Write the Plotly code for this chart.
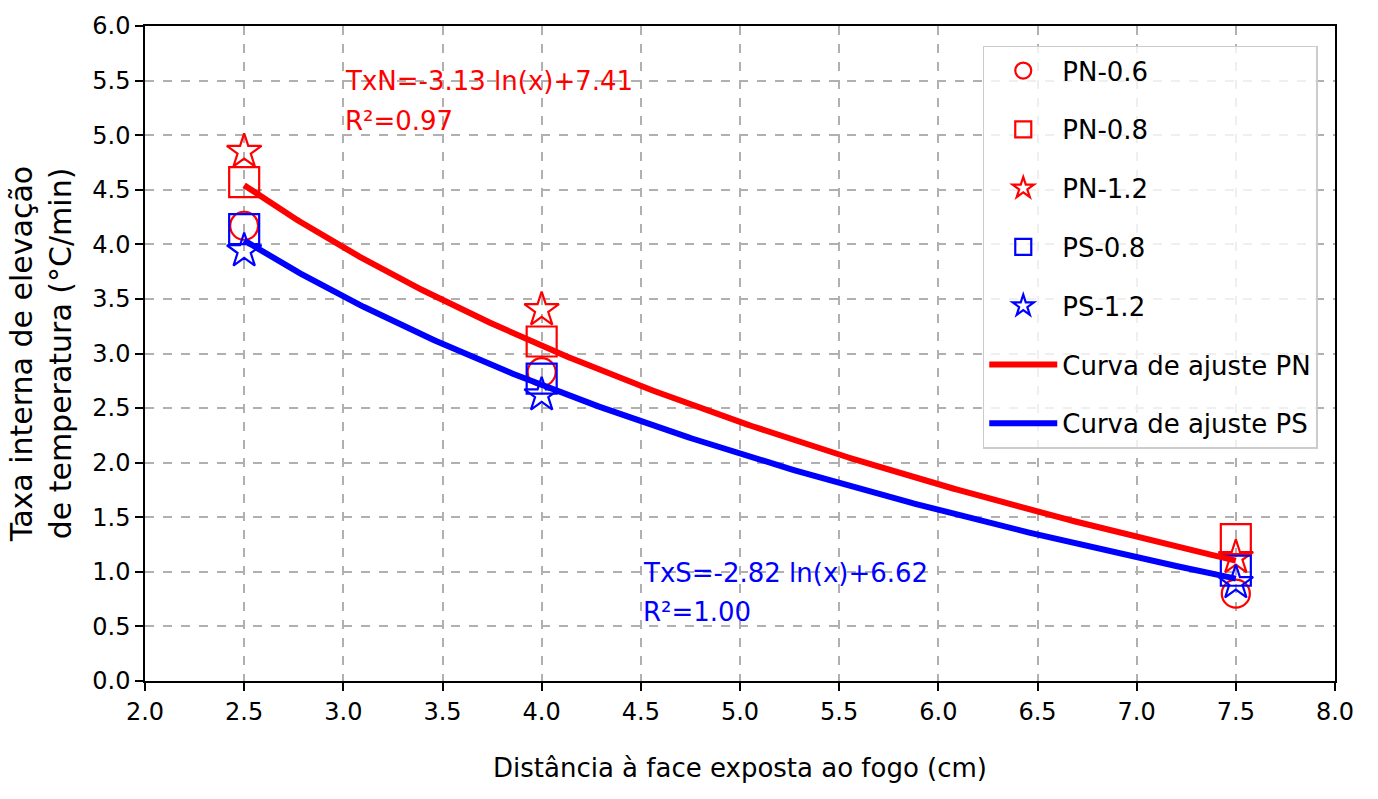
import numpy as np
import plotly.graph_objects as go

# Data
x_pos = [2.5, 4.0, 7.5]
pn_06 = [4.17, 2.83, 0.80]
pn_08 = [4.57, 3.11, 1.30]
pn_12 = [4.85, 3.40, 1.13]
ps_08 = [4.14, 2.77, 1.01]
ps_12 = [3.94, 2.62, 0.90]

# Fit coefficients displayed on the chart: y = a*ln(x) + b
pn_fit = (-3.13, 7.41)
ps_fit = (-2.82, 6.62)

x_ticks = [2.0, 2.5, 3.0, 3.5, 4.0, 4.5, 5.0, 5.5, 6.0, 6.5, 7.0, 7.5, 8.0]
y_ticks = [0.0, 0.5, 1.0, 1.5, 2.0, 2.5, 3.0, 3.5, 4.0, 4.5, 5.0, 5.5, 6.0]

FONT = "DejaVu Sans"
RED = "#ff0000"
BLUE = "#0000ff"

fig = go.Figure()

markers = [
    ("PN-0.6", pn_06, "circle-open", RED, 28),
    ("PN-0.8", pn_08, "square-open", RED, 30),
    ("PN-1.2", pn_12, "star-open", RED, 26),
    ("PS-0.8", ps_08, "square-open", BLUE, 30),
    ("PS-1.2", ps_12, "star-open", BLUE, 26),
]
for i, (name, vals, sym, col, sz) in enumerate(markers):
    fig.add_trace(go.Scatter(
        x=x_pos, y=vals, mode="markers", name=name,
        legendgroup=f"g{i}",
        marker=dict(symbol=sym, size=sz, color=col, line=dict(width=2.2, color=col)),
    ))

xf = np.linspace(x_pos[0], x_pos[-1], 300)
for j, (name, (a, b), col) in enumerate([("Curva de ajuste PN", pn_fit, RED),
                                          ("Curva de ajuste PS", ps_fit, BLUE)]):
    fig.add_trace(go.Scatter(
        x=xf, y=a * np.log(xf) + b, mode="lines", name=name,
        legendgroup=f"c{j}",
        line=dict(color=col, width=6),
    ))

anns = [
    (3.0, 5.50, "TxN=-3.13 ln(x)+7.41", RED),
    (3.0, 5.13, "R²=0.97", RED),
    (4.5, 0.99, "TxS=-2.82 ln(x)+6.62", BLUE),
    (4.5, 0.63, "R²=1.00", BLUE),
]
for ax_, ay_, txt, col in anns:
    fig.add_annotation(x=ax_, y=ay_, text=txt, showarrow=False,
                       xanchor="left", yanchor="middle",
                       font=dict(family=FONT, size=26, color=col))

axis_common = dict(
    showline=True, linecolor="black", linewidth=1.5, mirror=True,
    ticks="outside", ticklen=8, tickwidth=1.5, tickcolor="black",
    showgrid=True, gridcolor="#b0b0b0", gridwidth=1.5, griddash="dash",
    zeroline=False,
    tickfont=dict(family=FONT, size=24, color="black"),
)

fig.update_xaxes(range=[2.0, 8.0], tickvals=x_ticks,
                 ticktext=[f"{v:.1f}" for v in x_ticks],
                 title=dict(text="Distância à face exposta ao fogo (cm)",
                            font=dict(family=FONT, size=26, color="black"),
                            standoff=34),
                 **axis_common)
fig.update_yaxes(range=[0.0, 6.0], tickvals=y_ticks,
                 ticktext=[f"{v:.1f}" for v in y_ticks],
                 title=dict(text="Taxa interna de elevação<br>de temperatura (°C/min)",
                            font=dict(family=FONT, size=30, color="black"),
                            standoff=12),
                 **axis_common)

fig.update_layout(
    width=1378, height=799,
    margin=dict(l=145, r=43, t=22, b=118),
    paper_bgcolor="white", plot_bgcolor="white",
    showlegend=True,
    legend=dict(
        x=0.704, y=0.97, xanchor="left", yanchor="top",
        bgcolor="rgba(255,255,255,0.8)", bordercolor="#cccccc", borderwidth=1.5,
        font=dict(family=FONT, size=26, color="black"),
        tracegroupgap=22, itemwidth=68, itemsizing="trace",
    ),
)

fig.write_html("out.html")
